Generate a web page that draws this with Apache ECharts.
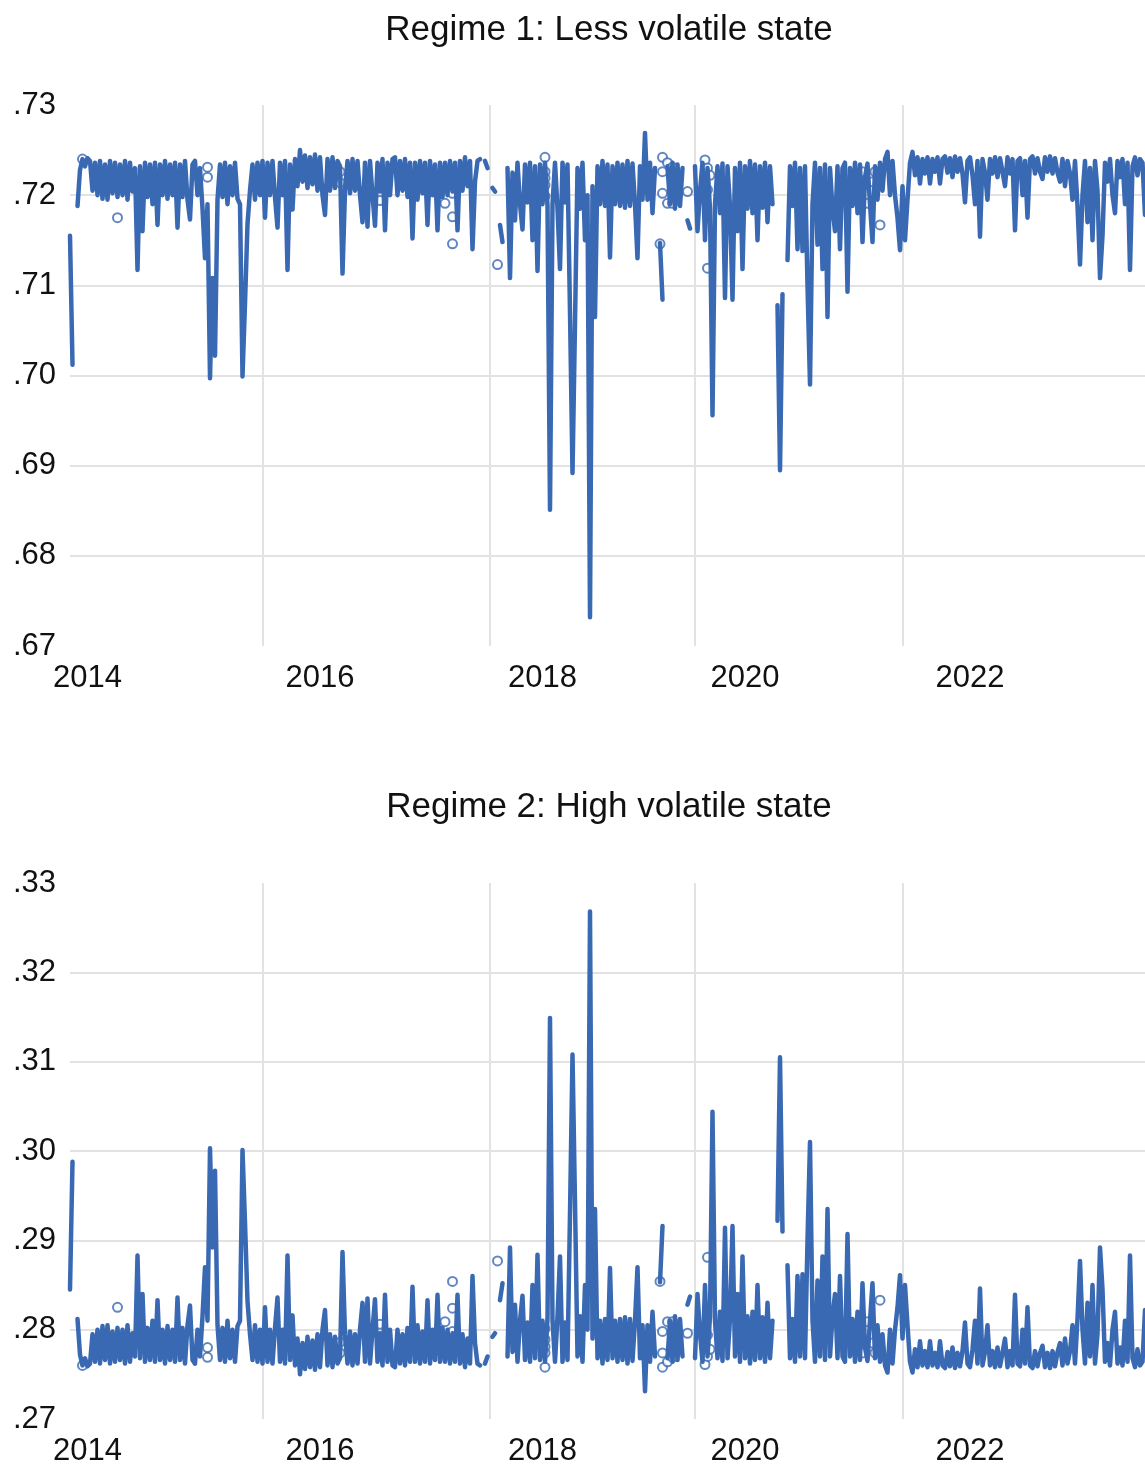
<!DOCTYPE html>
<html>
<head>
<meta charset="utf-8">
<script src="https://cdn.jsdelivr.net/npm/echarts@6/dist/echarts.min.js"></script>
<style>
html,body{margin:0;padding:0;background:#fff;}
#chart{width:1145px;height:1467px;}
</style>
</head>
<body>
<div id="chart"></div>
<script>
// Tick labels on the date axis (year of the observation at that index)
const yearLabels = ['2014', '2016', '2018', '2020', '2022'];
const yearLabelIndex = [7, 100, 189, 270, 360];
const yearGridIndex = [77, 168, 250, 333];

// Regime 1: smoothed probability of the less volatile state (one value per observation step)
const regime1 = [
.7155,.7012,null,.7188,.7228,.7240,.7232,.7241,.7238,.7205,
.7236,.7200,.7238,.7196,.7234,.7195,.7238,.7202,.7236,.7198,
.7234,.7200,.7238,.7195,.7236,.7204,.7230,.7117,.7232,.7160,
.7236,.7198,.7234,.7190,.7236,.7167,.7234,.7200,.7238,.7196,
.7234,.7200,.7236,.7164,.7234,.7198,.7238,.7195,.7173,.7234,
.7238,.7200,.7230,.7185,.7130,.7190,.6997,.7108,.7022,.7195,
.7234,.7198,.7236,.7190,.7232,.7200,.7236,.7196,.7190,.6999,
.7080,.7168,.7205,.7234,.7195,.7236,.7200,.7238,.7175,.7236,
.7200,.7238,.7198,.7164,.7236,.7200,.7238,.7117,.7234,.7184,
.7240,.7210,.7250,.7215,.7244,.7208,.7242,.7212,.7245,.7205,
.7242,.7200,.7178,.7240,.7205,.7242,.7208,.7238,.7232,.7113,
.7205,.7238,.7202,.7240,.7205,.7238,.7200,.7170,.7236,.7165,
.7238,.7200,.7166,.7236,.7204,.7240,.7161,.7236,.7200,.7240,
.7242,.7200,.7238,.7205,.7240,.7198,.7236,.7152,.7236,.7195,
.7238,.7202,.7236,.7167,.7238,.7200,.7234,.7161,.7236,.7198,
.7236,.7200,.7238,.7204,.7236,.7161,.7238,.7205,.7242,.7210,
.7238,.7140,.7215,.7238,.7240,null,.7238,.7230,null,.7208,
.7204,null,.7167,.7148,null,.7230,.7108,.7225,.7172,.7236,
.7190,.7162,.7234,.7192,.7236,.7150,.7232,.7116,.7234,.7190,
.7236,.7188,.6851,.7190,.7236,.7185,.7118,.7236,.7192,.7234,
.7070,.6892,.7058,.7230,.7185,.7236,.7150,.7200,.6732,.7210,
.7065,.7232,.7190,.7238,.7188,.7234,.7131,.7232,.7190,.7236,
.7188,.7234,.7186,.7238,.7188,.7235,.7190,.7130,.7232,.7195,
.7269,.7195,.7236,.7180,.7230,null,.7147,.7084,null,.7232,
.7190,.7236,.7185,.7234,.7188,.7230,null,.7172,.7163,null,
.7232,.7160,.7205,.7236,.7150,.7230,.7185,.6956,.7190,.7232,
.7180,.7235,.7086,.7232,.7188,.7084,.7230,.7160,.7236,.7118,
.7232,.7185,.7238,.7180,.7234,.7150,.7232,.7186,.7236,.7170,
.7232,.7190,null,.7078,.6895,.7090,null,.7128,.7232,.7188,
.7236,.7140,.7230,.7138,.7232,.7100,.6990,.7190,.7236,.7145,
.7230,.7118,.7234,.7065,.7230,.7185,.7160,.7232,.7140,.7230,
.7236,.7093,.7230,.7188,.7236,.7180,.7234,.7148,.7220,.7235,
.7190,.7148,.7232,.7195,.7236,.7205,.7240,.7248,.7200,.7238,
.7200,.7175,.7139,.7210,.7150,.7195,.7236,.7248,.7222,.7242,
.7213,.7240,.7224,.7242,.7213,.7240,.7226,.7242,.7213,.7240,
.7243,.7225,.7241,.7220,.7243,.7226,.7241,.7224,.7192,.7238,
.7242,.7222,.7190,.7238,.7154,.7240,.7225,.7195,.7240,.7224,
.7242,.7220,.7241,.7226,.7210,.7242,.7224,.7240,.7161,.7238,
.7241,.7200,.7238,.7175,.7240,.7243,.7224,.7241,.7226,.7218,
.7242,.7226,.7243,.7224,.7241,.7225,.7215,.7240,.7210,.7238,
.7224,.7195,.7238,.7188,.7123,.7200,.7238,.7170,.7230,.7150,
.7238,.7205,.7108,.7155,.7236,.7215,.7240,.7200,.7180,.7238,
.7220,.7240,.7190,.7236,.7117,.7232,.7242,.7222,.7240,.7236,
.7178
];

// Isolated observations of regime 1 (observation index, value)
const regime1Isolated = [
[5,.7240],[19,.7175],[55,.7231],[55,.7220],[64,.7226],[108,.7226],[108,.7214],
[124,.7194],[125,.7217],[150,.7191],[151,.7219],[153,.7202],[153,.7176],[153,.7146],
[171,.7123],[190,.7242],[190,.7226],[190,.7219],[190,.7211],[190,.7199],
[236,.7146],[237,.7242],[239,.7236],[237,.7226],[241,.7231],[237,.7202],[239,.7191],[241,.7191],
[247,.7204],[254,.7239],[255,.7230],[256,.7222],[254,.7214],[255,.7206],[255,.7119],
[317,.7226],[322,.7226],[319,.7191],[324,.7167],[321,.7215],[333,.7169]
];

// Regime 2: smoothed probability of the high volatile state
const regime2 = [
.2845,.2988,null,.2812,.2772,.2760,.2768,.2759,.2762,.2795,
.2764,.2800,.2762,.2804,.2766,.2805,.2762,.2798,.2764,.2802,
.2766,.2800,.2762,.2805,.2764,.2796,.2770,.2883,.2768,.2840,
.2764,.2802,.2766,.2810,.2764,.2833,.2766,.2800,.2762,.2804,
.2766,.2800,.2764,.2836,.2766,.2802,.2762,.2805,.2827,.2766,
.2762,.2800,.2770,.2815,.2870,.2810,.3003,.2892,.2978,.2805,
.2766,.2802,.2764,.2810,.2768,.2800,.2764,.2804,.2810,.3001,
.2920,.2832,.2795,.2766,.2805,.2764,.2800,.2762,.2825,.2764,
.2800,.2762,.2802,.2836,.2764,.2800,.2762,.2883,.2766,.2816,
.2760,.2790,.2750,.2785,.2756,.2792,.2758,.2788,.2755,.2795,
.2758,.2800,.2822,.2760,.2795,.2758,.2792,.2762,.2768,.2887,
.2795,.2762,.2798,.2760,.2795,.2762,.2800,.2830,.2764,.2835,
.2762,.2800,.2834,.2764,.2796,.2760,.2839,.2764,.2800,.2760,
.2758,.2800,.2762,.2795,.2760,.2802,.2764,.2848,.2764,.2805,
.2762,.2798,.2764,.2833,.2762,.2800,.2766,.2839,.2764,.2802,
.2764,.2800,.2762,.2796,.2764,.2839,.2762,.2795,.2758,.2790,
.2762,.2860,.2785,.2762,.2760,null,.2762,.2770,null,.2792,
.2796,null,.2833,.2852,null,.2770,.2892,.2775,.2828,.2764,
.2810,.2838,.2766,.2808,.2764,.2850,.2768,.2884,.2766,.2810,
.2764,.2812,.3149,.2810,.2764,.2815,.2882,.2764,.2808,.2766,
.2930,.3108,.2942,.2770,.2815,.2764,.2850,.2800,.3268,.2790,
.2935,.2768,.2810,.2762,.2812,.2766,.2869,.2768,.2810,.2764,
.2812,.2766,.2814,.2762,.2812,.2765,.2810,.2870,.2768,.2805,
.2731,.2805,.2764,.2820,.2770,null,.2853,.2916,null,.2768,
.2810,.2764,.2815,.2766,.2812,.2770,null,.2828,.2837,null,
.2768,.2840,.2795,.2764,.2850,.2770,.2815,.3044,.2810,.2768,
.2820,.2765,.2914,.2768,.2812,.2916,.2770,.2840,.2764,.2882,
.2768,.2815,.2762,.2820,.2766,.2850,.2768,.2814,.2764,.2830,
.2768,.2810,null,.2922,.3105,.2910,null,.2872,.2768,.2812,
.2764,.2860,.2770,.2862,.2768,.2900,.3010,.2810,.2764,.2855,
.2770,.2882,.2766,.2935,.2770,.2815,.2840,.2768,.2860,.2770,
.2764,.2907,.2770,.2812,.2764,.2820,.2766,.2852,.2780,.2765,
.2810,.2852,.2768,.2805,.2764,.2795,.2760,.2752,.2800,.2762,
.2800,.2825,.2861,.2790,.2850,.2805,.2764,.2752,.2778,.2758,
.2787,.2760,.2776,.2758,.2787,.2760,.2774,.2758,.2787,.2760,
.2757,.2775,.2759,.2780,.2757,.2774,.2759,.2776,.2808,.2762,
.2758,.2778,.2810,.2762,.2846,.2760,.2775,.2805,.2760,.2776,
.2758,.2780,.2759,.2774,.2790,.2758,.2776,.2760,.2839,.2762,
.2759,.2800,.2762,.2825,.2760,.2757,.2776,.2759,.2774,.2782,
.2758,.2774,.2757,.2776,.2759,.2775,.2785,.2760,.2790,.2762,
.2776,.2805,.2762,.2812,.2877,.2800,.2762,.2830,.2770,.2850,
.2762,.2795,.2892,.2845,.2764,.2785,.2760,.2800,.2820,.2762,
.2780,.2760,.2810,.2764,.2883,.2768,.2758,.2778,.2760,.2764,
.2822
];

// Isolated observations of regime 2 (observation index, value)
const regime2Isolated = [
[5,.2760],[19,.2825],[55,.2769],[55,.2780],[64,.2774],[108,.2774],[108,.2786],
[124,.2806],[125,.2783],[150,.2809],[151,.2781],[153,.2798],[153,.2824],[153,.2854],
[171,.2877],[190,.2758],[190,.2774],[190,.2781],[190,.2789],[190,.2801],
[236,.2854],[237,.2758],[239,.2764],[237,.2774],[241,.2769],[237,.2798],[239,.2809],[241,.2809],
[247,.2796],[254,.2761],[255,.2770],[256,.2778],[254,.2786],[255,.2794],[255,.2881],
[317,.2774],[322,.2774],[319,.2809],[324,.2833],[321,.2785],[333,.2831]
];

const categories = regime1.map((_, i) => String(i));

const BLUE = '#3a69b3';
const GRID = '#e2e2e2';
const FONT = 'Liberation Sans';
const TXT = '#111';

function xAxisCfg(gridIndex) {
  return {
    type: 'category', gridIndex: gridIndex, data: categories, boundaryGap: false,
    axisLine: {show: false}, axisTick: {show: false},
    axisLabel: {
      interval: (idx) => yearLabelIndex.indexOf(idx) >= 0,
      formatter: (v) => { const k = yearLabelIndex.indexOf(Number(v)); return k >= 0 ? yearLabels[k] : ''; },
      fontSize: 31, fontFamily: FONT, color: TXT, margin: 17
    },
    splitLine: {
      show: true,
      interval: (idx) => yearGridIndex.indexOf(idx) >= 0,
      lineStyle: {color: GRID, width: 2}
    }
  };
}
function yAxisCfg(gridIndex, min, max) {
  return {
    type: 'value', gridIndex: gridIndex, min: min, max: max, interval: 0.01,
    axisLine: {show: false}, axisTick: {show: false},
    axisLabel: {
      formatter: (v) => v.toFixed(2).replace(/^0/, ''),
      fontSize: 31, fontFamily: FONT, color: TXT, margin: 14
    },
    splitLine: {show: true, showMinLine: false, showMaxLine: false, lineStyle: {color: GRID, width: 2}}
  };
}
function lineSeries(idx, data) {
  return {
    type: 'line', xAxisIndex: idx, yAxisIndex: idx, data: data, showSymbol: false,
    connectNulls: false, silent: true,
    lineStyle: {color: BLUE, width: 4.5, join: 'round', cap: 'round'}
  };
}
function pointSeries(idx, data) {
  return {
    type: 'scatter', xAxisIndex: idx, yAxisIndex: idx, data: data, silent: true,
    symbol: 'emptyCircle', symbolSize: 9,
    itemStyle: {color: BLUE, borderColor: BLUE, borderWidth: 2.5}
  };
}

const chart = echarts.init(document.getElementById('chart'), null, {renderer: 'canvas'});
chart.setOption({
  animation: false,
  backgroundColor: '#fff',
  title: [
    {text: 'Regime 1: Less volatile state', left: 609, top: 13, textAlign: 'center', padding: 0,
     textStyle: {fontSize: 35, fontWeight: 'normal', fontFamily: FONT, color: TXT}},
    {text: 'Regime 2: High volatile state', left: 609, top: 790, textAlign: 'center', padding: 0,
     textStyle: {fontSize: 35, fontWeight: 'normal', fontFamily: FONT, color: TXT}}
  ],
  grid: [
    {left: 70, right: 0, top: 105, height: 541},
    {left: 70, right: 0, top: 883, height: 540}
  ],
  xAxis: [xAxisCfg(0), xAxisCfg(1)],
  yAxis: [yAxisCfg(0, 0.67, 0.73), yAxisCfg(1, 0.27, 0.33)],
  series: [
    lineSeries(0, regime1), pointSeries(0, regime1Isolated),
    lineSeries(1, regime2), pointSeries(1, regime2Isolated)
  ]
});
</script>
</body>
</html>
